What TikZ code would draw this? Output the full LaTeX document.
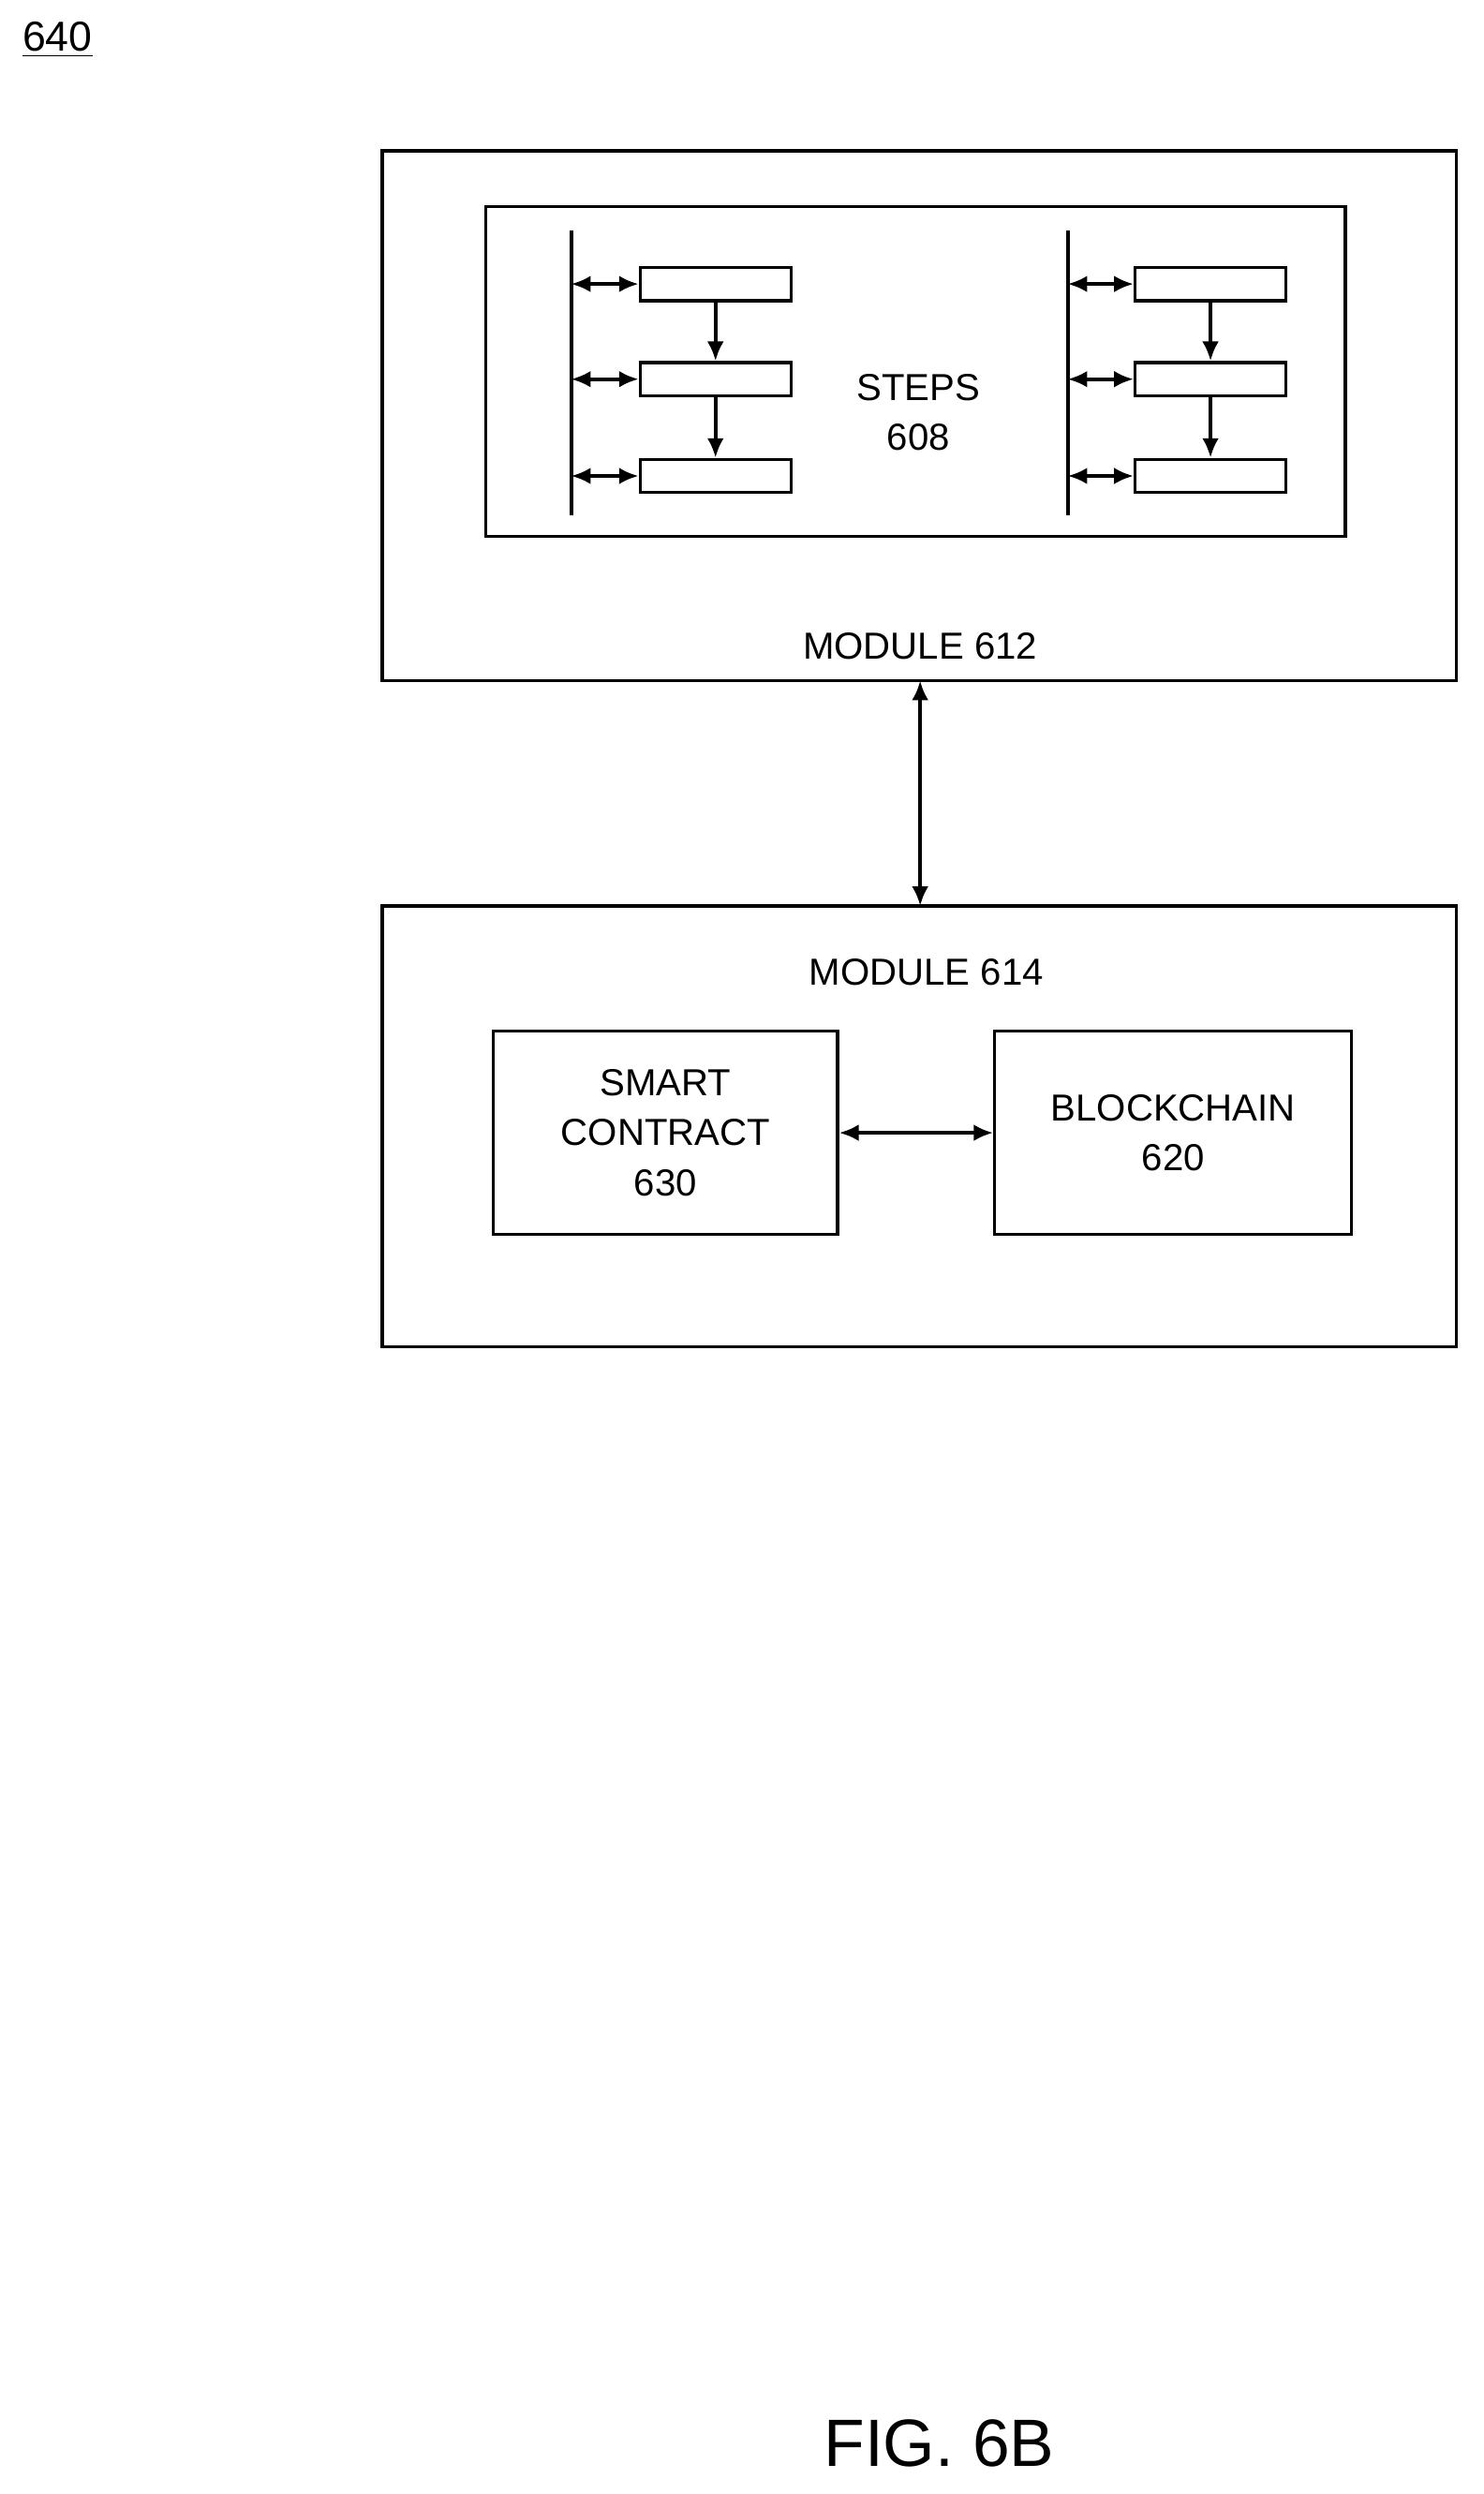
\documentclass[tikz,border=0pt]{standalone}
\usepackage{fontspec}
\setmainfont{Liberation Sans}
\usetikzlibrary{positioning,arrows.meta}
\tikzset{box/.style={draw=black,line width=1.1pt,inner sep=0pt},
  stepbox/.style={draw=black,line width=1.1pt,minimum width=1.9cm,minimum height=0.42cm,inner sep=0pt},
  lbl/.style={font=\fontsize{13.5}{17}\selectfont,align=center},
  dbl/.style={{Latex[length=7pt,width=6pt]}-{Latex[length=7pt,width=6pt]},line width=1.3pt},
  one/.style={-{Latex[length=7pt,width=6pt]},line width=1.3pt}}
\begin{document}
\begin{tikzpicture}[x=0.02cm,y=-0.02cm]
  \useasboundingbox (0,0) rectangle (935,1572);
  \node[font=\fontsize{15}{18}\selectfont,anchor=west] (fig) at (8,25) {\underline{640}};

  \draw[box] (241,95) rectangle (918,429);
  \node[lbl] (m612) at (580,407) {MODULE 612};
  \draw[box] (306,130) rectangle (848,338);
  \node[lbl] (steps) at (579,260) {STEPS\\[1pt]608};

  \foreach \s/\bx/\cx in {l/360/451,r/673/763}{
    \coordinate (\s top) at (\bx,145);
    \coordinate (\s bot) at (\bx,325);
    \draw[line width=1.3pt] (\s top) -- (\s bot);
    \foreach \i/\y in {1/179,2/239,3/300}{
      \node[stepbox] (\s\i) at (\cx,\y) {};
      \coordinate (\s b\i) at (\bx,\y);
      \draw[dbl] (\s b\i) -- (\s\i.west);
    }
    \draw[one] (\s1) -- (\s2);
    \draw[one] (\s2) -- (\s3);
  }

  \draw[box] (241,571) rectangle (918,849);
  \coordinate (top614) at (580,571);
  \coordinate (bot612) at (580,429);
  \draw[dbl] (bot612) -- (top614);
  \node[lbl] (m614) at (584,613) {MODULE 614};
  \node[box,lbl,minimum width=4.34cm,minimum height=2.56cm] (sc) at (419.5,714) {SMART\\[1pt]CONTRACT\\[1pt]630};
  \node[box,lbl,minimum width=4.5cm,minimum height=2.56cm] (bc) at (739.5,714) {BLOCKCHAIN\\[1pt]620};
  \draw[dbl] (sc) -- (bc);

  \node[font=\fontsize{24}{28}\selectfont] (cap) at (592,1540) {FIG. 6B};
\end{tikzpicture}
\end{document}
